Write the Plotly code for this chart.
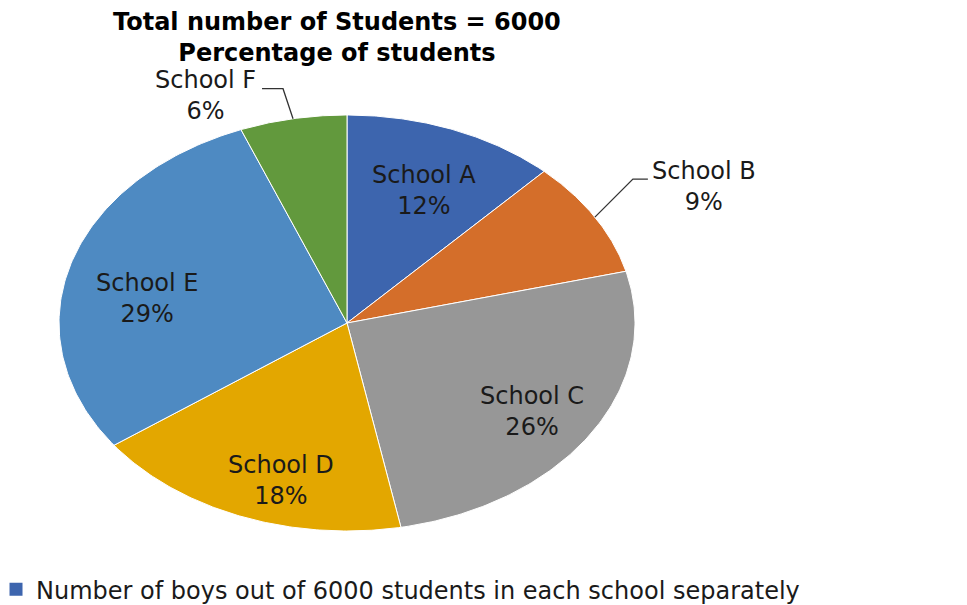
import numpy as np
import plotly.graph_objects as go

schools = ["School A", "School B", "School C", "School D", "School E", "School F"]
percent = [12, 9, 26, 18, 29, 6]
colors = ["#3D65AE", "#D46E2A", "#979797", "#E3A700", "#4E8AC2", "#62993D"]
legend_label = "Number of boys out of 6000 students in each school separately"
title_lines = ["Total number of Students = 6000", "Percentage of students"]

# inside label placement (radius fraction, angle in degrees clockwise from top);
# None => outside label with leader line
label_polar = [(0.693, 22.7), None, (0.77, 123.5), (0.79, 196.8), (0.704, 279.8), None]

OFF = 8  # page body margin
W, H = 967 - OFF, 605 - OFF
cx, cy, rx, ry = 347 - OFF, 323 - OFF, 288, 208
xr = [-cx / rx, (W - cx) / rx]
yr = [-(H - cy) / ry, cy / ry]

LBL = dict(size=24, color="#1a1a1a", family="DejaVu Sans")

fig = go.Figure()
total = sum(percent)
cum = 0.0
for i, (name, v) in enumerate(zip(schools, percent)):
    a0 = cum / total * 2 * np.pi
    a1 = (cum + v) / total * 2 * np.pi
    cum += v
    t = np.linspace(a0, a1, 120)
    xs = np.concatenate([[0], np.sin(t), [0]])
    ys = np.concatenate([[0], np.cos(t), [0]])
    fig.add_trace(go.Scatter(
        x=xs, y=ys, mode="lines", fill="toself", fillcolor=colors[i],
        line=dict(color="white", width=1), hoverinfo="text",
        text=f"{name}: {v}%", name=name, showlegend=False,
    ))
    am = (a0 + a1) / 2
    txt = f"{name}<br>{v}%"
    if label_polar[i] is not None:
        r, ang = label_polar[i]
        ang = np.radians(ang)
        fig.add_annotation(x=r * np.sin(ang), y=r * np.cos(ang), text=txt,
                           showarrow=False, font=LBL)
    else:
        ex, ey = np.sin(am), np.cos(am)
        if np.sin(am) > 0:
            bx, by = ex + 38 / rx, ey + 38 / ry
            hx = bx + 15 / rx
            fig.add_trace(go.Scatter(x=[ex, bx, hx], y=[ey, by, by], mode="lines",
                                     line=dict(color="#333333", width=1.3),
                                     showlegend=False, hoverinfo="skip"))
            fig.add_annotation(x=hx + 2 / rx, y=by - 7 / ry, text=txt, xanchor="left",
                               showarrow=False, font=LBL)
        else:
            bx, by = ex - 10 / rx, ey + 30 / ry
            hx = bx - 21 / rx
            fig.add_trace(go.Scatter(x=[ex, bx, hx], y=[ey, by, by], mode="lines",
                                     line=dict(color="#333333", width=1.3),
                                     showlegend=False, hoverinfo="skip"))
            fig.add_annotation(x=hx - 4 / rx, y=by - 7 / ry, text=txt, xanchor="right",
                               showarrow=False, font=LBL)

# legend entry (square marker in series colour)
fig.add_trace(go.Scatter(x=[None], y=[None], mode="markers", name=legend_label,
                         marker=dict(symbol="square", size=13, color=colors[0]),
                         showlegend=True))

fig.add_annotation(xref="paper", yref="paper", x=(337 - OFF) / W, y=1 - (37.5 - OFF) / H,
                   text="<b>" + "<br>".join(title_lines) + "</b>", showarrow=False,
                   font=dict(family="DejaVu Sans", size=24, color="#000000"),
                   yanchor="middle")

fig.update_layout(
    width=W, height=H,
    margin=dict(l=0, r=0, t=0, b=0, autoexpand=False),
    paper_bgcolor="white", plot_bgcolor="white",
    font=dict(family="DejaVu Sans", color="#1a1a1a"),
    xaxis=dict(range=xr, visible=False, fixedrange=True),
    yaxis=dict(range=yr, visible=False, fixedrange=True),
    showlegend=True,
    legend=dict(x=-0.0125, y=-0.012, xanchor="left", yanchor="bottom",
                font=dict(size=24, color="#1a1a1a"), bgcolor="rgba(0,0,0,0)",
                itemwidth=30),
)
fig.write_html("out.html")
